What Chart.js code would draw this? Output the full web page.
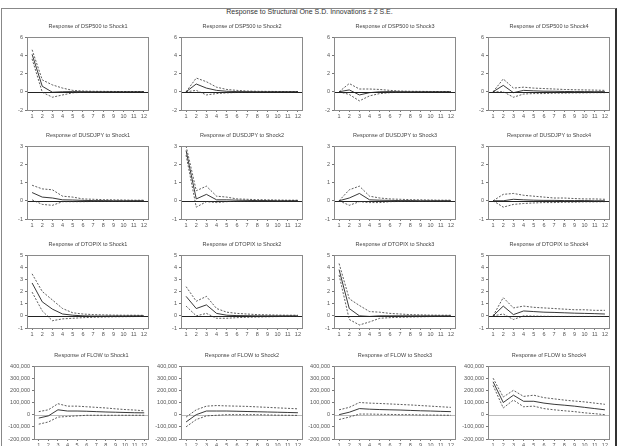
<!DOCTYPE html>
<html>
<head>
<meta charset="utf-8">
<script src="https://cdn.jsdelivr.net/npm/chart.js@4.4.0/dist/chart.umd.min.js"></script>
<style>
  body { margin: 0; background: #fff; width: 619px; height: 446px; overflow: hidden; position: relative;
         font-family: "Liberation Sans", Arial, sans-serif; }
  #frame { position: absolute; left: 1px; top: 8px; width: 613px; height: 460px;
           border: 1px solid #888; border-right: 2px solid #333; }
  #title { position: absolute; left: 0; top: 8px; width: 619px; text-align: center; font-size: 7px; color: #333; }
  canvas { position: absolute; }
</style>
</head>
<body>
<div id="frame"></div>
<div id="title">Response to Structural One S.D. Innovations ± 2 S.E.</div>
<script>
const periods = [1, 2, 3, 4, 5, 6, 7, 8, 9, 10, 11, 12];
const shocks = ["Shock1", "Shock2", "Shock3", "Shock4"];
const variables = ["DSP500", "DUSDJPY", "DTOPIX", "FLOW"];

// y ticks per row
const ticksDSP500 = [-2, 0, 2, 4, 6];
const ticksDUSDJPY = [-1, 0, 1, 2, 3];
const ticksDTOPIX = [-1, 0, 1, 2, 3, 4, 5];
const ticksFLOW = [-200000, -100000, 0, 100000, 200000, 300000, 400000];

// DSP500
const dsp500S1 = [4.1, 0.6, -0.05, 0.0, 0.02, 0.01, 0, 0, 0, 0, 0, 0];
const dsp500S1Up = [4.6, 1.3, 0.75, 0.4, 0.15, 0.08, 0.05, 0.04, 0.03, 0.02, 0.02, 0.01];
const dsp500S1Lo = [3.6, -0.05, -0.6, -0.35, -0.12, -0.06, -0.05, -0.04, -0.03, -0.02, -0.02, -0.01];
const dsp500S2 = [0, 0.85, 0.4, 0.15, 0.05, 0.02, 0.01, 0, 0, 0, 0, 0];
const dsp500S2Up = [0, 1.5, 1.1, 0.5, 0.25, 0.15, 0.08, 0.05, 0.04, 0.03, 0.02, 0.02];
const dsp500S2Lo = [0, 0.15, -0.35, -0.2, -0.12, -0.08, -0.05, -0.04, -0.03, -0.02, -0.02, -0.01];
const dsp500S3 = [0, 0.2, -0.35, -0.1, 0.0, 0.02, 0.01, 0, 0, 0, 0, 0];
const dsp500S3Up = [0, 0.9, 0.3, 0.3, 0.25, 0.15, 0.08, 0.05, 0.04, 0.03, 0.02, 0.02];
const dsp500S3Lo = [0, -0.3, -1.0, -0.45, -0.2, -0.1, -0.06, -0.04, -0.03, -0.02, -0.02, -0.01];
const dsp500S4 = [0, 0.7, -0.1, 0.15, 0.1, 0.06, 0.05, 0.03, 0.02, 0.02, 0.01, 0.01];
const dsp500S4Up = [0, 1.4, 0.4, 0.5, 0.4, 0.35, 0.3, 0.25, 0.22, 0.2, 0.18, 0.15];
const dsp500S4Lo = [0, 0.0, -0.6, -0.25, -0.2, -0.2, -0.15, -0.15, -0.12, -0.12, -0.1, -0.1];

// DUSDJPY
const usdjpyS1 = [0.45, 0.2, 0.15, 0.05, 0.04, 0.02, 0.01, 0.01, 0, 0, 0, 0];
const usdjpyS1Up = [0.85, 0.65, 0.6, 0.25, 0.2, 0.1, 0.08, 0.06, 0.05, 0.04, 0.03, 0.03];
const usdjpyS1Lo = [0.05, -0.2, -0.25, -0.05, -0.05, -0.05, -0.04, -0.04, -0.03, -0.03, -0.02, -0.02];
const usdjpyS2 = [2.75, 0.1, 0.35, 0.05, 0.05, 0.03, 0.02, 0.01, 0.01, 0, 0, 0];
const usdjpyS2Up = [3.0, 0.55, 0.8, 0.25, 0.2, 0.1, 0.08, 0.06, 0.05, 0.04, 0.03, 0.03];
const usdjpyS2Lo = [2.5, -0.35, -0.05, -0.1, -0.05, -0.03, -0.03, -0.02, -0.02, -0.02, -0.01, -0.01];
const usdjpyS3 = [0, 0.15, 0.4, 0.05, 0.03, 0.02, 0.01, 0.01, 0, 0, 0, 0];
const usdjpyS3Up = [0, 0.6, 0.8, 0.25, 0.15, 0.1, 0.08, 0.06, 0.05, 0.04, 0.03, 0.03];
const usdjpyS3Lo = [0, -0.25, -0.05, -0.1, -0.1, -0.05, -0.04, -0.03, -0.03, -0.02, -0.02, -0.02];
const usdjpyS4 = [0, 0.0, 0.08, 0.05, 0.03, 0.02, 0.02, 0.01, 0.01, 0.01, 0, 0];
const usdjpyS4Up = [0, 0.35, 0.4, 0.3, 0.25, 0.2, 0.15, 0.15, 0.12, 0.1, 0.1, 0.08];
const usdjpyS4Lo = [0, -0.35, -0.2, -0.15, -0.12, -0.1, -0.1, -0.08, -0.08, -0.06, -0.06, -0.05];

// DTOPIX
const topixS1 = [2.7, 1.15, 0.55, 0.15, 0.05, 0.0, -0.02, -0.02, -0.01, -0.01, 0, 0];
const topixS1Up = [3.45, 2.0, 1.3, 0.6, 0.25, 0.15, 0.1, 0.08, 0.06, 0.05, 0.05, 0.04];
const topixS1Lo = [1.95, 0.4, -0.4, -0.25, -0.2, -0.15, -0.12, -0.1, -0.08, -0.07, -0.06, -0.05];
const topixS2 = [1.6, 0.6, 0.9, 0.2, 0.05, 0.02, 0.01, 0, 0, 0, 0, 0];
const topixS2Up = [2.4, 1.2, 1.6, 0.6, 0.3, 0.2, 0.15, 0.1, 0.08, 0.06, 0.05, 0.05];
const topixS2Lo = [0.8, 0.0, 0.2, -0.2, -0.2, -0.15, -0.12, -0.1, -0.08, -0.06, -0.05, -0.05];
const topixS3 = [3.8, 0.6, 0.0, -0.05, 0.0, 0.0, 0, 0, 0, 0, 0, 0];
const topixS3Up = [4.3, 1.4, 0.85, 0.35, 0.3, 0.2, 0.15, 0.1, 0.08, 0.06, 0.05, 0.05];
const topixS3Lo = [3.35, -0.3, -0.75, -0.5, -0.2, -0.15, -0.12, -0.1, -0.08, -0.06, -0.05, -0.05];
const topixS4 = [0, 0.8, 0.1, 0.4, 0.35, 0.3, 0.28, 0.25, 0.22, 0.2, 0.18, 0.15];
const topixS4Up = [0, 1.5, 0.65, 0.8, 0.7, 0.65, 0.6, 0.55, 0.5, 0.5, 0.45, 0.45];
const topixS4Lo = [0, 0.15, -0.3, 0.0, -0.02, -0.04, -0.05, -0.05, -0.05, -0.05, -0.05, -0.05];

// FLOW
const flowS1 = [-28000, -10000, 40000, 30000, 30000, 28000, 25000, 22000, 20000, 18000, 16000, 15000];
const flowS1Up = [25000, 40000, 90000, 70000, 70000, 65000, 60000, 55000, 48000, 42000, 38000, 32000];
const flowS1Lo = [-78000, -60000, -20000, -15000, -10000, -5000, -5000, -5000, -5000, -5000, -5000, -5000];
const flowS2 = [-60000, 0, 30000, 30000, 30000, 28000, 26000, 24000, 22000, 20000, 18000, 16000];
const flowS2Up = [-20000, 40000, 70000, 75000, 72000, 70000, 68000, 64000, 60000, 56000, 52000, 48000];
const flowS2Lo = [-100000, -40000, -10000, -5000, 0, 0, 0, 0, -2000, -4000, -5000, -6000];
const flowS3 = [0, 20000, 50000, 45000, 42000, 40000, 38000, 35000, 32000, 30000, 27000, 25000];
const flowS3Up = [40000, 60000, 100000, 95000, 92000, 88000, 84000, 80000, 75000, 70000, 65000, 60000];
const flowS3Lo = [-40000, -20000, 5000, 5000, 3000, 2000, 0, 0, -2000, -3000, -4000, -5000];
const flowS4 = [270000, 100000, 160000, 110000, 110000, 95000, 85000, 78000, 70000, 60000, 50000, 40000];
const flowS4Up = [300000, 145000, 200000, 150000, 160000, 140000, 130000, 120000, 112000, 105000, 95000, 85000];
const flowS4Lo = [240000, 55000, 120000, 65000, 70000, 50000, 40000, 32000, 25000, 15000, 8000, 0];

const grid = [
  [[dsp500S1, dsp500S1Up, dsp500S1Lo], [dsp500S2, dsp500S2Up, dsp500S2Lo], [dsp500S3, dsp500S3Up, dsp500S3Lo], [dsp500S4, dsp500S4Up, dsp500S4Lo]],
  [[usdjpyS1, usdjpyS1Up, usdjpyS1Lo], [usdjpyS2, usdjpyS2Up, usdjpyS2Lo], [usdjpyS3, usdjpyS3Up, usdjpyS3Lo], [usdjpyS4, usdjpyS4Up, usdjpyS4Lo]],
  [[topixS1, topixS1Up, topixS1Lo], [topixS2, topixS2Up, topixS2Lo], [topixS3, topixS3Up, topixS3Lo], [topixS4, topixS4Up, topixS4Lo]],
  [[flowS1, flowS1Up, flowS1Lo], [flowS2, flowS2Up, flowS2Lo], [flowS3, flowS3Up, flowS3Lo], [flowS4, flowS4Up, flowS4Lo]]
];
const rowTicks = [ticksDSP500, ticksDUSDJPY, ticksDTOPIX, ticksFLOW];

// layout of plot areas in page pixels
const colLeft = [27, 181, 334, 488];
const rowTop = [37, 146, 255, 366];
const plotW = 122, plotH = 73;
const TITLE_SPACE = 18, XAXIS_H = 12, RIGHT_PAD = 4;

const FONT = "'Liberation Sans', Arial, sans-serif";

const panelDecor = {
  id: "panelDecor",
  beforeDatasetsDraw(chart, args, opts) {
    const { ctx, chartArea: a, scales: { y } } = chart;
    ctx.save();
    ctx.strokeStyle = opts.zeroColor;
    ctx.lineWidth = 1;
    const y0 = Math.round(y.getPixelForValue(0)) + 0.5;
    ctx.beginPath();
    ctx.moveTo(a.left, y0);
    ctx.lineTo(a.right, y0);
    ctx.stroke();
    ctx.restore();
  },
  afterDraw(chart, args, opts) {
    const { ctx, chartArea: a } = chart;
    ctx.save();
    ctx.strokeStyle = "#8a8a8a";
    ctx.lineWidth = 1;
    ctx.strokeRect(Math.round(a.left) + 0.5, Math.round(a.top) + 0.5,
                   Math.round(a.right - a.left) - 1, Math.round(a.bottom - a.top));
    ctx.fillStyle = "#444";
    ctx.font = "5.5px " + FONT;
    ctx.textAlign = "center";
    ctx.textBaseline = "middle";
    ctx.fillText(opts.title, (a.left + a.right) / 2, a.top - 11);
    ctx.restore();
  }
};

const fmt = new Intl.NumberFormat("en-US");

grid.forEach((row, r) => {
  row.forEach(([resp, up, lo], c) => {
    const isFlow = r === 3;
    const left = (isFlow && c === 0) ? 34 : colLeft[c];
    const width = (isFlow && c === 0) ? plotW - 7 : plotW;
    const yw = isFlow ? 34 : 26;

    const canvas = document.createElement("canvas");
    canvas.width = yw + width + RIGHT_PAD;
    canvas.height = TITLE_SPACE + plotH + XAXIS_H;
    canvas.style.left = (left - yw) + "px";
    canvas.style.top = (rowTop[r] - TITLE_SPACE) + "px";
    document.body.appendChild(canvas);

    const pts = arr => periods.map((p, i) => ({ x: p, y: arr[i] }));
    const ticks = rowTicks[r];

    new Chart(canvas, {
      type: "line",
      data: {
        datasets: [
          { data: pts(resp), borderColor: "#222", borderWidth: 0.9 },
          { data: pts(up), borderColor: "#333", borderWidth: 0.8, borderDash: [2, 1.5] },
          { data: pts(lo), borderColor: "#333", borderWidth: 0.8, borderDash: [2, 1.5] }
        ]
      },
      options: {
        responsive: false,
        animation: false,
        devicePixelRatio: 1,
        layout: { padding: { top: TITLE_SPACE, right: RIGHT_PAD, left: 0, bottom: 0 } },
        elements: { point: { radius: 0 }, line: { tension: 0 } },
        scales: {
          x: {
            type: "linear",
            min: 0.5,
            max: 12.5,
            afterBuildTicks: s => { s.ticks = periods.map(v => ({ value: v })); },
            afterFit: s => { s.height = XAXIS_H; },
            ticks: { autoSkip: false, maxRotation: 0, padding: 1, color: "#555",
                     font: { family: FONT, size: 5.5 } },
            grid: { drawOnChartArea: false, tickLength: 2, color: "#777" },
            border: { display: false }
          },
          y: {
            min: ticks[0],
            max: ticks[ticks.length - 1],
            afterBuildTicks: s => { s.ticks = ticks.map(v => ({ value: v })); },
            afterFit: s => { s.width = yw; },
            ticks: { padding: 2, color: "#555", font: { family: FONT, size: 5.5 },
                     callback: v => isFlow ? fmt.format(v) : String(v) },
            grid: { drawOnChartArea: false, tickLength: 2, color: "#777" },
            border: { display: false }
          }
        },
        plugins: {
          legend: { display: false },
          tooltip: { enabled: false },
          panelDecor: {
            title: "Response of " + variables[r] + " to " + shocks[c],
            zeroColor: isFlow ? "#bbb" : "#222"
          }
        }
      },
      plugins: [panelDecor]
    });
  });
});
</script>
</body>
</html>
